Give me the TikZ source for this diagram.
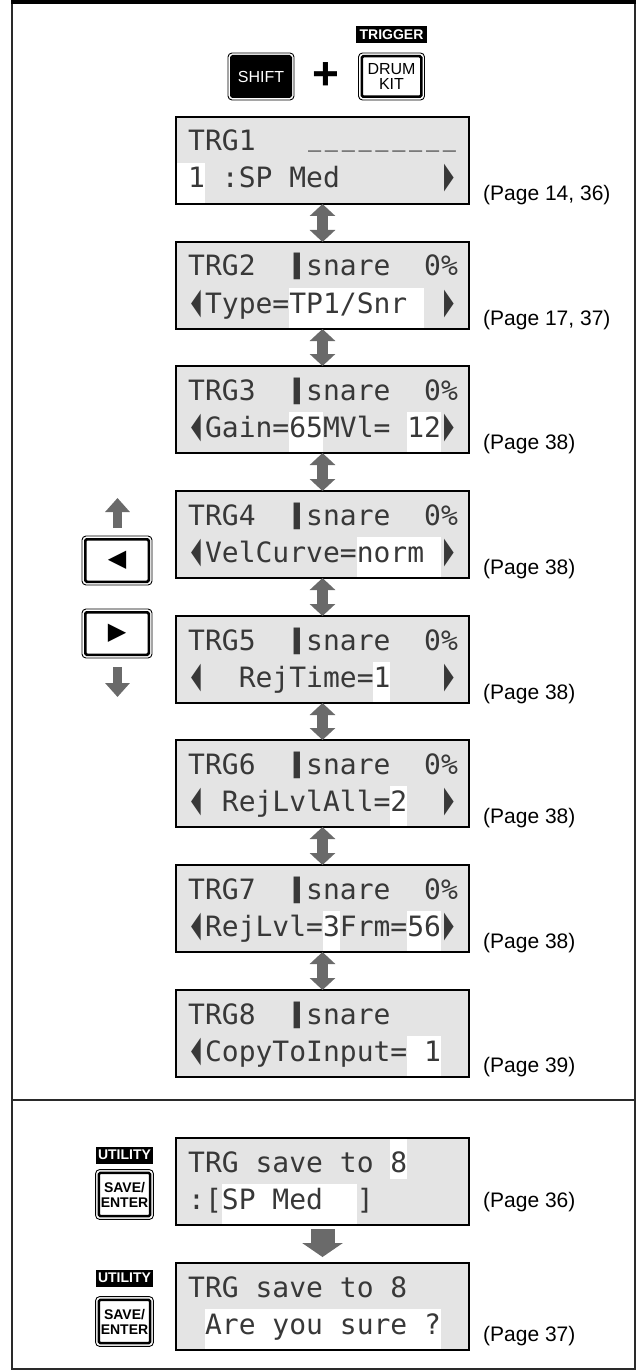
\documentclass[tikz,border=0pt]{standalone}
\usepackage{fontspec}
\usepackage{graphicx}
\setmainfont{Liberation Sans}
\newfontfamily\lcdfont{DejaVu Sans Mono}
\newfontfamily\dvs{DejaVu Sans}
\usetikzlibrary{arrows.meta,fit}
\definecolor{lcdgray}{HTML}{E4E4E4}
\definecolor{arrowgray}{HTML}{6A6A6A}
\definecolor{lcdink}{HTML}{383838}
\definecolor{framecol}{HTML}{2A2A2A}
\newcommand\SP{\hbox to 0.60205em{\hss}}
\newcommand\LA{\hbox to 0.60205em{\hss\scalebox{0.45}[1.3]{\dvs ◀}\hss}}
\newcommand\RA{\hbox to 0.60205em{\hss\scalebox{0.45}[1.3]{\dvs ▶}\hss}}
\newcommand\BK{\hbox to 0.60205em{\hss\scalebox{0.62}[1.25]{\dvs ▮}\hss}}
\newcommand\US{\hbox to 0.60205em{\hss\raisebox{5.5pt}{\scalebox{0.78}[1]{\_}}\hss}}
\newcommand\hlA[3]{\fill[hl] ({188+#2*16.86},{#1+1.2}) rectangle ({188+(#3+1)*16.86},{#1+41});}
\newcommand\hlB[3]{\fill[hl] ({188+#2*16.86},{#1+46}) rectangle ({188+(#3+1)*16.86},{#1+86.2});}
\tikzset{
 lcdbox/.style={draw=black, line width=1.6pt, fill=lcdgray, minimum width=293pt, minimum height=87pt, inner sep=0pt, outer sep=0pt},
 lcdtxt/.style={anchor=base west, inner sep=0pt, text=lcdink, font=\lcdfont\fontsize{28}{28}\selectfont},
 pagelbl/.style={anchor=base west, inner sep=0pt, font=\fontsize{21}{21}\selectfont},
 hl/.style={fill=white},
 dbl/.style={draw=arrowgray, line width=11pt, {Triangle[width=25pt,length=12pt]}-{Triangle[width=25pt,length=12pt]}},
 sgl/.style={draw=arrowgray, line width=24pt, -{Triangle[width=40pt,length=14pt]}},
 side/.style={draw=arrowgray, line width=9pt, -{Triangle[width=24pt,length=14pt]}},
 btnin/.style={draw=black, line width=2.5pt, minimum width=59.5pt, minimum height=40.5pt, inner sep=0pt, rounded corners=1.5pt, align=center, font=\fontsize{16}{16}\selectfont},
 btnout/.style={draw=black, line width=0.9pt, rounded corners=4pt, inner sep=2pt},
 tag/.style={fill=black, text=white, minimum width=71pt, minimum height=17pt, inner sep=0pt, font=\bfseries\fontsize{14}{14}\selectfont},
}
\begin{document}
\begin{tikzpicture}[x=1pt,y=-1pt]
\useasboundingbox (0,0) rectangle (643,1372);
% frame
\fill[black] (11,0) rectangle (636,4.5);
\draw[framecol, line width=2pt] (12,4) -- (12,1369) -- (635,1369) -- (635,4);
\draw[framecol, line width=1.6pt] (12,1100) -- (635,1100);

% top buttons
\node[btnin, fill=black, text=white] (shift) at (261,76.5) {SHIFT};
\node[btnout, fit=(shift)] (shiftO) {};
\node[font=\bfseries\fontsize{46}{46}\selectfont, inner sep=0pt] (plus) at (326,76.5) {+};
\node[btnin, fill=white] (drum) at (391.5,76.5) {DRUM\\[-1pt]KIT};
\node[btnout, fit=(drum)] (drumO) {};
\node[tag] (trig) at (391.5,35) {TRIGGER};

% LCD screens
\node[lcdbox] (L1) at (322.5,{117+43.5}) {};
\node[lcdbox] (L2) at (322.5,{242+43.5}) {};
\node[lcdbox] (L3) at (322.5,{366+43.5}) {};
\node[lcdbox] (L4) at (322.5,{491+43.5}) {};
\node[lcdbox] (L5) at (322.5,{616+43.5}) {};
\node[lcdbox] (L6) at (322.5,{740+43.5}) {};
\node[lcdbox] (L7) at (322.5,{865+43.5}) {};
\node[lcdbox] (L8) at (322.5,{990+43.5}) {};
\node[lcdbox] (L9) at (322.5,{1138+43.5}) {};
\node[lcdbox] (L10) at (322.5,{1263+43.5}) {};

% highlights
\fill[hl] (177,{117+46}) rectangle (204.9,{117+86.2});
\hlB{242}{6}{13}
\hlB{366}{6}{7}
\hlB{366}{13}{14}
\hlB{491}{10}{14}
\hlB{616}{11}{11}
\hlB{740}{12}{12}
\hlB{865}{8}{8}
\hlB{865}{13}{14}
\hlB{990}{13}{14}
\hlA{1138}{12}{12}
\hlB{1138}{2}{9}
\hlB{1263}{1}{14}

% LCD texts
\node[lcdtxt] (L1a) at (188,{117+34}) {TRG1\SP\SP\SP\US\US\US\US\US\US\US\US\US};
\node[lcdtxt] (L1b) at (188,{117+71}) {1\SP:SP\SP Med\SP\SP\SP\SP\SP\SP\RA};
\node[lcdtxt] (L2a) at (188,{242+34}) {TRG2\SP\SP\BK snare\SP\SP0\%};
\node[lcdtxt] (L2b) at (188,{242+71}) {\LA Type=TP1/Snr\SP\SP\RA};
\node[lcdtxt] (L3a) at (188,{366+34}) {TRG3\SP\SP\BK snare\SP\SP0\%};
\node[lcdtxt] (L3b) at (188,{366+71}) {\LA Gain=65MVl=\SP12\RA};
\node[lcdtxt] (L4a) at (188,{491+34}) {TRG4\SP\SP\BK snare\SP\SP0\%};
\node[lcdtxt] (L4b) at (188,{491+71}) {\LA VelCurve=norm\SP\RA};
\node[lcdtxt] (L5a) at (188,{616+34}) {TRG5\SP\SP\BK snare\SP\SP0\%};
\node[lcdtxt] (L5b) at (188,{616+71}) {\LA\SP\SP RejTime=1\SP\SP\SP\RA};
\node[lcdtxt] (L6a) at (188,{740+34}) {TRG6\SP\SP\BK snare\SP\SP0\%};
\node[lcdtxt] (L6b) at (188,{740+71}) {\LA\SP RejLvlAll=2\SP\SP\RA};
\node[lcdtxt] (L7a) at (188,{865+34}) {TRG7\SP\SP\BK snare\SP\SP0\%};
\node[lcdtxt] (L7b) at (188,{865+71}) {\LA RejLvl=3Frm=56\RA};
\node[lcdtxt] (L8a) at (188,{990+34}) {TRG8\SP\SP\BK snare};
\node[lcdtxt] (L8b) at (188,{990+71}) {\LA CopyToInput=\SP1};
\node[lcdtxt] (L9a) at (188,{1138+34}) {TRG\SP save\SP to\SP8};
\node[lcdtxt] (L9b) at (188,{1138+71}) {:[SP\SP Med\SP\SP]};
\node[lcdtxt] (L10a) at (188,{1263+34}) {TRG\SP save\SP to\SP8};
\node[lcdtxt] (L10b) at (188,{1263+71}) {\SP Are\SP you\SP sure\SP?};

% page labels
\node[pagelbl] (P1) at (483,201) {(Page 14, 36)};
\node[pagelbl] (P2) at (483,325) {(Page 17, 37)};
\node[pagelbl] (P3) at (483,{366+83}) {(Page 38)};
\node[pagelbl] (P4) at (483,{491+83}) {(Page 38)};
\node[pagelbl] (P5) at (483,{616+83}) {(Page 38)};
\node[pagelbl] (P6) at (483,{740+83}) {(Page 38)};
\node[pagelbl] (P7) at (483,{865+83}) {(Page 38)};
\node[pagelbl] (P8) at (483,1072) {(Page 39)};
\node[pagelbl] (P9) at (483,1207) {(Page 36)};
\node[pagelbl] (P10) at (483,1341) {(Page 37)};

% arrows between screens
\draw[dbl] (L1.south) -- (L2.north);
\draw[dbl] (L2.south) -- (L3.north);
\draw[dbl] (L3.south) -- (L4.north);
\draw[dbl] (L4.south) -- (L5.north);
\draw[dbl] (L5.south) -- (L6.north);
\draw[dbl] (L6.south) -- (L7.north);
\draw[dbl] (L7.south) -- (L8.north);
\draw[sgl, shorten <=4pt, shorten >=6pt] (L9.south) -- (L10.north);

% left cursor buttons
\node[btnin, fill=white, minimum width=63.5pt, minimum height=42.5pt] (left) at (117,560.5) {\dvs\fontsize{24}{24}\selectfont ◀};
\node[btnout, fit=(left)] (leftO) {};
\node[btnin, fill=white, minimum width=63.5pt, minimum height=42.5pt] (right) at (117,633.5) {\dvs\fontsize{24}{24}\selectfont ▶};
\node[btnout, fit=(right)] (rightO) {};
\coordinate (u1) at (117.5,528);
\coordinate (u2) at (117.5,498);
\coordinate (d1) at (117.5,667);
\coordinate (d2) at (117.5,697);
\draw[side] (u1) -- (u2);
\draw[side] (d1) -- (d2);

% save/enter buttons
\node[tag, minimum width=57pt] (util1) at (124.5,1155) {UTILITY};
\node[btnin, fill=white, minimum width=51.3pt, minimum height=43.3pt, font=\bfseries\fontsize{14}{15}\selectfont] (save1) at (124.5,1194.5) {SAVE/\\ENTER};
\node[btnout, fit=(save1)] (save1O) {};
\node[tag, minimum width=57pt] (util2) at (124.5,1278) {UTILITY};
\node[btnin, fill=white, minimum width=51.3pt, minimum height=43.3pt, font=\bfseries\fontsize{14}{15}\selectfont] (save2) at (124.5,1321.5) {SAVE/\\ENTER};
\node[btnout, fit=(save2)] (save2O) {};
\end{tikzpicture}
\end{document}
